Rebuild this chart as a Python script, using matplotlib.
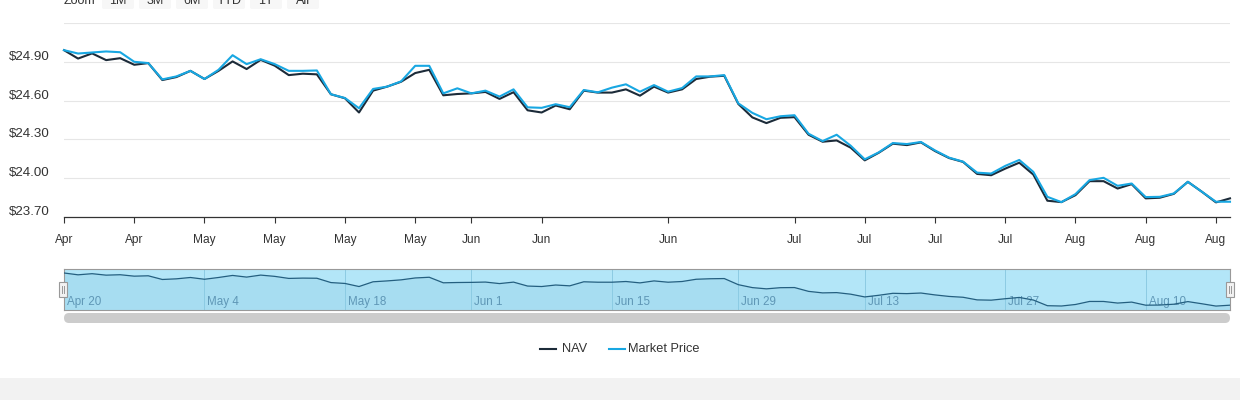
import numpy as np
import pandas as pd
import matplotlib
matplotlib.use('Agg')
import matplotlib.pyplot as plt
import matplotlib.transforms as mtransforms
from matplotlib.patches import FancyBboxPatch, Rectangle
from matplotlib.lines import Line2D

plt.rcParams['font.family'] = ['Liberation Sans', 'DejaVu Sans']

W, H = 1240, 400

# trading days (weekends and market holidays dropped, like an ordinal stock axis)
holidays = ['2026-05-25', '2026-06-19', '2026-07-03']
dates = pd.bdate_range('2026-04-20', '2026-08-18')
dates = dates[~dates.isin(pd.to_datetime(holidays))]

nav = [24.990, 24.925, 24.965, 24.913, 24.928, 24.877, 24.890, 24.759, 24.782, 24.830,
       24.767, 24.830, 24.903, 24.844, 24.915, 24.870, 24.797, 24.808, 24.803, 24.649,
       24.618, 24.508, 24.677, 24.708, 24.746, 24.813, 24.838, 24.641, 24.651, 24.656,
       24.667, 24.613, 24.665, 24.525, 24.508, 24.562, 24.533, 24.677, 24.662, 24.662,
       24.687, 24.638, 24.708, 24.662, 24.687, 24.767, 24.785, 24.792, 24.574, 24.470,
       24.426, 24.467, 24.472, 24.336, 24.282, 24.292, 24.236, 24.138, 24.197, 24.267,
       24.256, 24.277, 24.210, 24.156, 24.126, 24.033, 24.023, 24.074, 24.120, 24.028,
       23.826, 23.815, 23.869, 23.977, 23.977, 23.920, 23.954, 23.844, 23.849, 23.879,
       23.972, 23.895, 23.813, 23.844]

market_price = [24.990, 24.964, 24.972, 24.980, 24.974, 24.900, 24.890, 24.764, 24.787, 24.830,
                24.767, 24.838, 24.951, 24.882, 24.920, 24.882, 24.830, 24.830, 24.833, 24.649,
                24.620, 24.541, 24.690, 24.708, 24.749, 24.869, 24.869, 24.656, 24.695, 24.656,
                24.677, 24.631, 24.687, 24.548, 24.544, 24.572, 24.549, 24.682, 24.664, 24.700,
                24.726, 24.669, 24.720, 24.669, 24.697, 24.787, 24.787, 24.797, 24.579, 24.505,
                24.456, 24.479, 24.487, 24.344, 24.287, 24.336, 24.251, 24.146, 24.200, 24.272,
                24.264, 24.280, 24.215, 24.159, 24.128, 24.043, 24.036, 24.095, 24.141, 24.049,
                23.856, 23.815, 23.877, 23.985, 24.003, 23.941, 23.959, 23.854, 23.856, 23.882,
                23.972, 23.895, 23.818, 23.818]

y_ticks = [23.70, 24.00, 24.30, 24.60, 24.90, 25.20]
tick_dates = ['2026-04-20', '2026-04-27', '2026-05-04', '2026-05-11', '2026-05-18',
              '2026-05-26', '2026-06-01', '2026-06-08', '2026-06-22', '2026-07-06',
              '2026-07-13', '2026-07-20', '2026-07-27', '2026-08-03', '2026-08-10',
              '2026-08-17']
nav_label_dates = ['2026-04-20', '2026-05-04', '2026-05-18', '2026-06-01', '2026-06-15',
                   '2026-06-29', '2026-07-13', '2026-07-27', '2026-08-10']
zoom_buttons = ['1M', '3M', '6M', 'YTD', '1Y', 'All']

NAV_COLOR = '#1c2b39'
MP_COLOR = '#18a7e2'
TEXT = '#333333'


def fx(x):
    return x / W


def fy(y):
    return 1 - y / H


def date_index(d):
    return int(np.where(dates == pd.Timestamp(d))[0][0])


fig = plt.figure(figsize=(W / 100, H / 100), dpi=100)
# pixel coords measured from the top-left corner
px = mtransforms.Affine2D().scale(1 / W, -1 / H).translate(0, 1) + fig.transFigure

x = np.arange(len(dates))

# ---- main chart
ax = fig.add_axes([fx(64), fy(217), fx(1230) - fx(64), fy(23) - fy(217)])
ax.set_xlim(0, len(dates) - 1)
ax.set_ylim(y_ticks[0], y_ticks[-1])
for s in ['top', 'right', 'left']:
    ax.spines[s].set_visible(False)
ax.spines['bottom'].set_color(TEXT)
ax.spines['bottom'].set_linewidth(0.9)
for v in y_ticks[1:]:
    ax.axhline(v, color='#e6e6e6', lw=0.8, zorder=0)

ax.set_yticks([])
lab_tr = mtransforms.offset_copy(mtransforms.blended_transform_factory(fig.transFigure, ax.transData),
                                 fig=fig, y=5, units='dots')
for v in y_ticks[:-1]:
    ax.text(fx(9), v, '${:.2f}'.format(v), transform=lab_tr, ha='left', va='center',
            fontsize=9.6, color=TEXT)

tick_idx = [date_index(d) for d in tick_dates]
ax.set_xticks(tick_idx)
ax.set_xticklabels([pd.Timestamp(d).strftime('%b') for d in tick_dates])
ax.tick_params(axis='x', length=4, width=0.8, color=TEXT, labelsize=8.6, labelcolor=TEXT, pad=8.5)

ax.plot(x, nav, color=NAV_COLOR, lw=1.5, clip_on=False, zorder=3)
ax.plot(x, market_price, color=MP_COLOR, lw=1.5, clip_on=False, zorder=4)

# ---- navigator
nav_ax = fig.add_axes([fx(64), fy(310), fx(1230) - fx(64), fy(269) - fy(310)])
nav_ax.set_facecolor('#b3e6f8')
nav_ax.set_xlim(0, len(dates) - 1)
nav_ax.set_ylim(23.673, 25.132)
nav_ax.set_xticks([])
nav_ax.set_yticks([])
for s in nav_ax.spines.values():
    s.set_color('#999999')
    s.set_linewidth(0.8)
nav_ax.fill_between(x, nav, 23.673, color='#a7ddf1', lw=0, zorder=1)
for d in nav_label_dates:
    i = date_index(d)
    nav_ax.axvline(i, color='#8ccbe3', lw=0.7, zorder=2)
    nav_ax.annotate(pd.Timestamp(d).strftime('%b %-d'), (i, 0.2),
                    xycoords=('data', 'axes fraction'), xytext=(3, 0), textcoords='offset pixels',
                    ha='left', va='center', fontsize=8.4, color='#5f97b6', zorder=3)
nav_ax.plot(x, nav, color='#245f80', lw=0.9, zorder=4)

# handles
for hx in [59, 1226]:
    fig.add_artist(Rectangle((hx, 282), 8, 15, transform=px, fc='#f2f2f2', ec='#999999', lw=0.8))
    for lx in [hx + 3, hx + 5]:
        fig.add_artist(Line2D([lx, lx], [286, 293], transform=px, color='#999999', lw=0.7))

# scrollbar
fig.add_artist(FancyBboxPatch((64, 313), 1166, 10, boxstyle='round,pad=0,rounding_size=5',
                              transform=px, fc='#cccccc', ec='none'))

# ---- range selector (cut off at top, as in the source page)
fig.text(fx(64), fy(4), 'Zoom', ha='left', va='baseline', fontsize=9, color=TEXT)
for k, b in enumerate(zoom_buttons):
    bx = 102 + 37 * k
    fig.add_artist(FancyBboxPatch((bx, -8), 32, 17, boxstyle='round,pad=0,rounding_size=2',
                                  transform=px, fc='#f7f7f7', ec='none'))
    fig.text(fx(bx + 16), fy(4), b, ha='center', va='baseline', fontsize=9, color=TEXT)

# ---- legend
for sx, tx, col, name in [(540, 562, NAV_COLOR, 'NAV'), (609, 628, MP_COLOR, 'Market Price')]:
    fig.add_artist(Line2D([sx, sx + 16], [348.5, 348.5], transform=px, color=col, lw=1.5))
    fig.text(fx(tx), fy(348.5), name, ha='left', va='center', fontsize=9.2, color=TEXT)

# grey strip at the bottom
fig.add_artist(Rectangle((0, 378), W, 22, transform=px, fc='#f2f2f2', ec='none'))

fig.savefig('out.png', dpi=100)
